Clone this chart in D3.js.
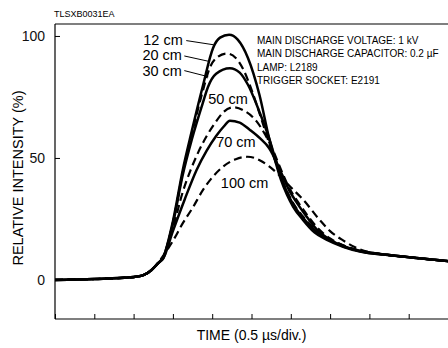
<!DOCTYPE html>
<html>
<head>
<meta charset="utf-8">
<script src="https://cdn.jsdelivr.net/npm/d3@7"></script>
<style>
  body { margin: 0; background: #fff; }
  svg { display: block; font-family: "Liberation Sans", Arial, sans-serif; }
</style>
</head>
<body>
<div id="container"></div>
<script>
/* DATA: time in divisions (0.5 us/div), relative intensity in % */
const start = [[0, 0], [1, 0.4], [2, 1.2], [2.25, 2], [2.45, 4], [2.6, 6.5]]
const tail = [[8.5, 10.2], [9.2, 9], [10, 7.7]]

const curve12 = [[2.76, 9.5], [3.0, 24], [3.25, 45], [3.48, 61], [3.77, 80], [4.02, 95], [4.2, 99.3], [4.43, 100.5],
  [4.65, 98.5], [4.91, 91], [5.2, 76], [5.45, 58], [5.6, 49], [5.75, 41], [5.9, 35], [6.06, 30], [6.31, 24.6],
  [6.6, 19.5], [6.92, 16.4], [7.33, 13.6], [7.76, 11.6]]
const curve20 = [[2.76, 9.5], [3.0, 23.5], [3.25, 44], [3.48, 59.5], [3.77, 78], [3.94, 87], [4.15, 91.5], [4.37, 92.8],
  [4.6, 91], [4.8, 86], [5.0, 78], [5.25, 66], [5.45, 56], [5.6, 49], [5.75, 42], [5.9, 36.5], [6.06, 31.5],
  [6.31, 26], [6.6, 21], [6.92, 17.3], [7.33, 14.2], [7.76, 11.9]]
const curve30 = [[2.76, 9.5], [3.0, 23], [3.25, 43], [3.48, 57.5], [3.77, 73], [3.89, 79], [4.1, 84.5], [4.45, 86.8],
  [4.7, 85], [4.91, 80], [5.2, 69], [5.45, 58], [5.6, 50], [5.75, 42.5], [5.9, 36], [6.06, 31], [6.31, 25.5],
  [6.6, 20.5], [6.92, 17], [7.33, 14], [7.76, 11.8]]
const curve50 = [[2.76, 9], [3.0, 21], [3.25, 36], [3.45, 45], [3.65, 52.5], [3.86, 59], [4.1, 65], [4.3, 69], [4.54, 70.8],
  [4.8, 69.5], [5.13, 65], [5.35, 59.5], [5.55, 53], [5.73, 46], [5.95, 38], [6.16, 32.5], [6.4, 27],
  [6.67, 21.5], [7.0, 17], [7.33, 14.2], [7.76, 12]]
const curve70 = [[2.76, 9], [3.0, 20], [3.3, 33], [3.6, 45], [3.86, 53], [4.1, 59], [4.3, 63], [4.45, 65.3],
  [4.7, 64.5], [4.96, 61.5], [5.22, 58], [5.45, 54], [5.73, 45], [5.95, 37], [6.16, 31.5], [6.4, 26],
  [6.67, 20.5], [7.0, 16.5], [7.33, 13.8], [7.76, 12]]
const curve100 = [[2.8, 11], [3.0, 16], [3.26, 23.5], [3.5, 29.5], [3.77, 37], [4.0, 42], [4.28, 46.5], [4.6, 49.5],
  [4.9, 50.5], [5.22, 49], [5.45, 46.5], [5.7, 43], [6.0, 38], [6.31, 33], [6.74, 24.5], [7.0, 20],
  [7.33, 16.2], [7.76, 12.5]]

const series = [
  {name: "12 cm", pts: start.concat(curve12, tail), dashed: false},
  {name: "20 cm", pts: start.concat(curve20, tail), dashed: true},
  {name: "30 cm", pts: start.concat(curve30, tail), dashed: false},
  {name: "50 cm", pts: start.concat(curve50, tail), dashed: true},
  {name: "70 cm", pts: start.concat(curve70, tail), dashed: false},
  {name: "100 cm", pts: start.slice(0, 5).concat(curve100, tail), dashed: true}
]

// labels with leader lines: text end, leader start, leader end
const leaderLabels = [
  {text: "12 cm", x: 3.25, y: 96.3, x1: 3.34, y1: 98.1, x2: 4.03, y2: 96.4},
  {text: "20 cm", x: 3.23, y: 90.2, x1: 3.29, y1: 91.8, x2: 3.94, y2: 89.5},
  {text: "30 cm", x: 3.23, y: 83.6, x1: 3.29, y1: 85.8, x2: 3.9, y2: 83.3}
]
const inlineLabels = [
  {text: "50 cm", x: 3.9, y: 72.1},
  {text: "70 cm", x: 4.1, y: 54.6},
  {text: "100 cm", x: 4.22, y: 37.6}
]
const notes = [
  "MAIN DISCHARGE VOLTAGE: 1 kV",
  "MAIN DISCHARGE CAPACITOR: 0.2 \u00b5F",
  "LAMP: L2189",
  "TRIGGER SOCKET: E2191"
]
const yTicks = [0, 50, 100]
const xTicks = d3.range(0, 11)

/* LAYOUT */
const W = 448, H = 348
const margin = {top: 24, right: 0, bottom: 29, left: 55}
const width = W - margin.left - margin.right
const height = H - margin.top - margin.bottom

const svg = d3.select("#container").append("svg")
  .attr("width", W).attr("height", H)

const g = svg.append("g")
  .attr("transform", "translate(" + margin.left + "," + margin.top + ")")

// SCALES
const xScale = d3.scaleLinear().domain([0, 10]).range([0, width])
const yScale = d3.scaleLinear().domain([-16, 104.9]).range([height, 0])

// frame: left, top, bottom
g.append("line").attr("x1", 0).attr("x2", 0).attr("y1", 0).attr("y2", height)
  .attr("stroke", "#000").attr("stroke-width", 1.2)
g.append("line").attr("x1", 0).attr("x2", width).attr("y1", 0).attr("y2", 0)
  .attr("stroke", "#000").attr("stroke-width", 1.2)

// x axis with inward ticks
const xAxis = g.append("g")
  .attr("transform", "translate(0," + height + ")")
  .call(d3.axisBottom(xScale).tickValues(xTicks).tickSize(-5).tickFormat(""))
xAxis.select(".domain").attr("stroke-width", 1.2).attr("d", "M0,0H" + width)
xAxis.selectAll(".tick line").attr("stroke-width", 1)

// y axis with inward ticks
const yAxis = g.append("g")
  .call(d3.axisLeft(yScale).tickValues(yTicks).tickSize(-5).tickPadding(10))
yAxis.select(".domain").remove()
yAxis.selectAll(".tick line").attr("stroke-width", 1)
yAxis.selectAll(".tick text")
  .style("font-size", "14px").attr("fill", "#111")
  .attr("font-family", "Liberation Sans, Arial, sans-serif")

// LINES
const line = d3.line()
  .x(d => xScale(d[0]))
  .y(d => yScale(d[1]))
  .curve(d3.curveMonotoneX)

g.selectAll(".curve")
  .data(series)
  .join("path")
    .attr("class", "curve")
    .attr("fill", "none")
    .attr("stroke", "#000")
    .attr("stroke-width", d => d.dashed ? 2.2 : 2.5)
    .attr("stroke-dasharray", d => d.dashed ? "8,4.5" : null)
    .attr("stroke-linejoin", "round")
    .attr("d", d => line(d.pts))

// CURVE LABELS
g.selectAll(".leader")
  .data(leaderLabels)
  .join("line")
    .attr("x1", d => xScale(d.x1)).attr("y1", d => yScale(d.y1))
    .attr("x2", d => xScale(d.x2)).attr("y2", d => yScale(d.y2))
    .attr("stroke", "#000").attr("stroke-width", 1)

g.selectAll(".lbl")
  .data(leaderLabels)
  .join("text")
    .attr("x", d => xScale(d.x)).attr("y", d => yScale(d.y))
    .attr("text-anchor", "end")
    .style("font-size", "14.5px")
    .text(d => d.text)

g.selectAll(".ilbl")
  .data(inlineLabels)
  .join("text")
    .attr("x", d => xScale(d.x)).attr("y", d => yScale(d.y))
    .style("font-size", "14.5px")
    .text(d => d.text)

// CONDITIONS NOTE
svg.selectAll(".note")
  .data(notes)
  .join("text")
    .attr("x", 257)
    .attr("y", (d, i) => 43.5 + i * 13.5)
    .style("font-size", "10px")
    .text(d => d)

// TITLES
svg.append("text")
  .attr("x", 54).attr("y", 17)
  .style("font-size", "9px")
  .text("TLSXB0031EA")

svg.append("text")
  .attr("x", margin.left + width / 2).attr("y", 340)
  .attr("text-anchor", "middle")
  .style("font-size", "14px")
  .text("TIME (0.5 \u00b5s/div.)")

svg.append("text")
  .attr("transform", "translate(23," + 178 + ") rotate(-90)")
  .attr("text-anchor", "middle")
  .style("font-size", "14.5px")
  .text("RELATIVE INTENSITY (%)")
</script>
</body>
</html>
